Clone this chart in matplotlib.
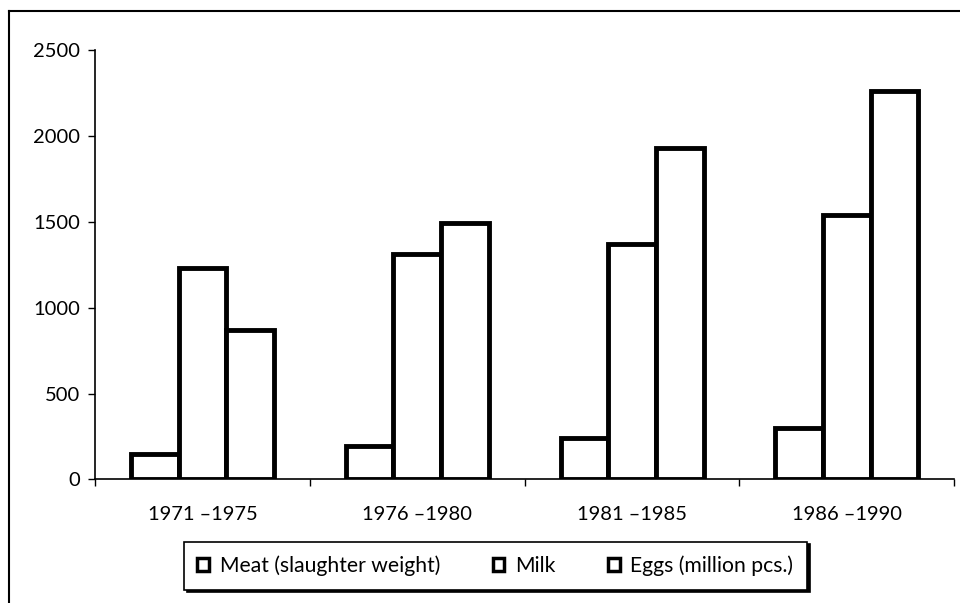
import matplotlib
matplotlib.use("Agg")
import matplotlib.pyplot as plt
import numpy as np
from matplotlib.lines import Line2D

plt.rcParams["font.family"] = ["Lato", "DejaVu Sans"]

PERIODS = ["1971 \u20131975", "1976 \u20131980", "1981 \u20131985", "1986 \u20131990"]
SERIES = ["Meat (slaughter weight)", "Milk", "Eggs (million pcs.)"]
MEAT = [150, 195, 240, 300]
MILK = [1230, 1310, 1370, 1540]
EGGS = [870, 1495, 1930, 2260]


def main():
    fig = plt.figure(figsize=(9.6, 6.03), dpi=100)
    ax = fig.add_axes([0.099, 0.205, 0.895, 0.712])

    x = np.arange(len(PERIODS))
    w = 0.222
    for k, vals in enumerate([MEAT, MILK, EGGS]):
        ax.bar(x + (k - 1) * w, vals, width=w, facecolor="white",
               edgecolor="black", linewidth=3.5, label=SERIES[k], zorder=2)

    ax.set_xlim(-0.5, len(PERIODS) - 0.5)
    ax.set_ylim(0, 2500)
    ax.set_yticks(range(0, 2501, 500))
    ax.set_xticks(np.arange(len(PERIODS) + 1) - 0.5)
    ax.set_xticklabels([])
    ax.set_xticks(x, minor=True)
    ax.set_xticklabels(PERIODS, minor=True)
    ax.tick_params(axis="x", which="minor", length=0, pad=19, labelsize=14.5)
    ax.tick_params(axis="x", which="major", direction="out", length=5, width=1)
    ax.tick_params(axis="y", direction="out", length=5, width=1, labelsize=14.5, pad=6)
    for s in ["top", "right"]:
        ax.spines[s].set_visible(False)
    for s in ["left", "bottom"]:
        ax.spines[s].set_linewidth(1.2)

    # outer chart frame (only left and top edges visible in the crop)
    fig.add_artist(Line2D([0.0095, 0.0095], [0.0, 0.982], transform=fig.transFigure,
                          color="black", linewidth=1.5))
    fig.add_artist(Line2D([0.0095, 1.0], [0.982, 0.982], transform=fig.transFigure,
                          color="black", linewidth=1.5))

    leg = fig.legend(loc="center", bbox_to_anchor=(0.516, 0.062), ncol=3,
                     fontsize=15.2, frameon=True, fancybox=False,
                     shadow={"color": "black", "alpha": 1},
                     edgecolor="black", handlelength=0.55, handleheight=0.55,
                     columnspacing=2.5, borderpad=0.65, handletextpad=0.5,
                     borderaxespad=0)
    leg.get_frame().set_linewidth(1.2)
    for h in leg.legend_handles:
        h.set_linewidth(2.5)

    fig.savefig("out.png", dpi=100)


if __name__ == "__main__":
    main()
